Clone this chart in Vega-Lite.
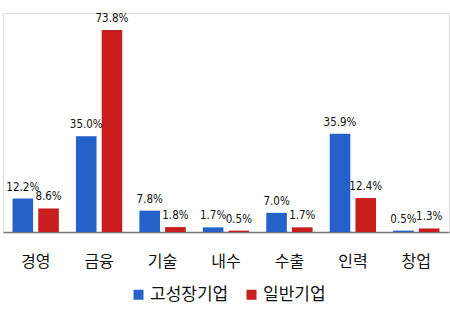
{
  "$schema": "https://vega.github.io/schema/vega-lite/v6.json",
  "width": 446,
  "height": 219,
  "autosize": {"type": "none"},
  "padding": {"left": 3, "top": 13, "right": 1, "bottom": 82},
  "background": "white",
  "data": {"values": [
    {"cat": "경영", "grp": "고성장기업", "v": 12.2},
    {"cat": "경영", "grp": "일반기업", "v": 8.6},
    {"cat": "금융", "grp": "고성장기업", "v": 35.0},
    {"cat": "금융", "grp": "일반기업", "v": 73.8},
    {"cat": "기술", "grp": "고성장기업", "v": 7.8},
    {"cat": "기술", "grp": "일반기업", "v": 1.8},
    {"cat": "내수", "grp": "고성장기업", "v": 1.7},
    {"cat": "내수", "grp": "일반기업", "v": 0.5},
    {"cat": "수출", "grp": "고성장기업", "v": 7.0},
    {"cat": "수출", "grp": "일반기업", "v": 1.7},
    {"cat": "인력", "grp": "고성장기업", "v": 35.9},
    {"cat": "인력", "grp": "일반기업", "v": 12.4},
    {"cat": "창업", "grp": "고성장기업", "v": 0.5},
    {"cat": "창업", "grp": "일반기업", "v": 1.3}
  ]},
  "encoding": {
    "x": {"field": "cat", "type": "nominal", "sort": null,
      "scale": {"paddingInner": 0.27, "paddingOuter": 0.15},
      "axis": {"title": null, "labelAngle": 0, "ticks": false, "domainColor": "#777777", "domainWidth": 1.5,
        "labelFont": "Noto Sans CJK KR", "labelFontSize": 16, "labelColor": "#111111", "labelPadding": 21}},
    "xOffset": {"field": "grp", "type": "nominal", "scale": {"paddingInner": 0.2}},
    "y": {"field": "v", "type": "quantitative", "scale": {"domain": [0, 80]}, "axis": null}
  },
  "layer": [
    {"mark": {"type": "bar"},
     "encoding": {"color": {"field": "grp", "type": "nominal",
       "scale": {"domain": ["고성장기업", "일반기업"], "range": ["#2461C8", "#C81E1E"]},
       "legend": {"title": null, "orient": "none", "direction": "horizontal", "legendX": 127, "legendY": 273,
         "symbolType": "square", "symbolSize": 100, "labelFont": "Noto Sans CJK KR", "labelFontSize": 17,
         "labelColor": "#111111", "columnPadding": 14, "labelOffset": 3}}}},
    {"mark": {"type": "text", "baseline": "bottom", "dy": -6, "font": "DejaVu Sans Condensed", "fontSize": 11.5, "color": "#111111",
      "text": {"expr": "format(datum.v, '.1f') + '%'"}}}
  ]
}
